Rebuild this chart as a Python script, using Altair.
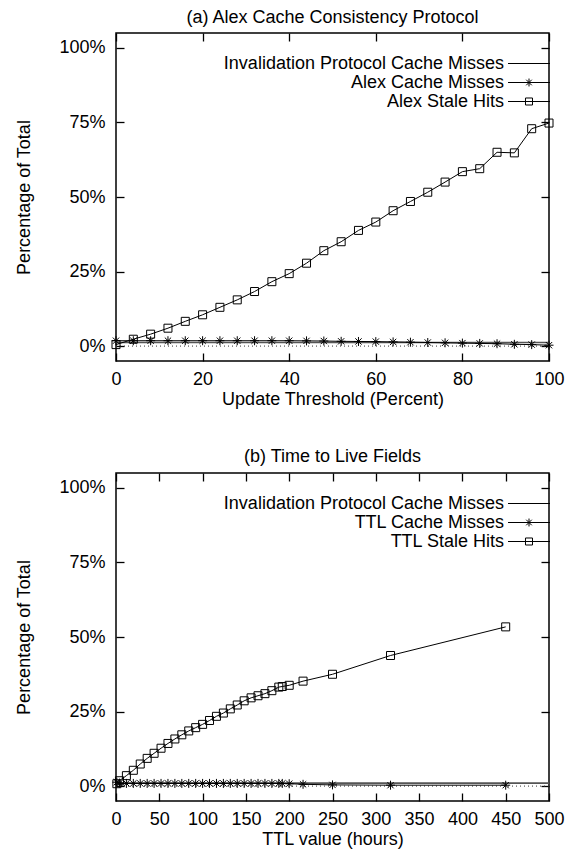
import altair as alt
import pandas as pd

FONT = "Liberation Sans"

# ---------------- data: (a) Alex ----------------
threshold = [0, 4, 8, 12, 16, 20, 24, 28, 32, 36, 40, 44, 48, 52, 56, 60,
             64, 68, 72, 76, 80, 84, 88, 92, 96, 100]
alex_stale = [0.5, 2.3, 4.0, 6.0, 8.3, 10.5, 13.0, 15.5, 18.3, 21.6, 24.3,
              27.8, 32.0, 35.0, 38.8, 41.6, 45.4, 48.5, 51.6, 55.0, 58.5,
              59.5, 65.0, 64.8, 72.9, 74.8]
alex_misses = [1.8, 1.8, 1.8, 1.8, 1.8, 1.8, 1.8, 1.8, 1.8, 1.8, 1.8, 1.75,
               1.7, 1.6, 1.55, 1.5, 1.4, 1.3, 1.2, 1.1, 1.0, 0.9, 0.8, 0.6,
               0.5, 0.3]
inval_a_x = [0, 100]
inval_a = [1.2, 1.2]

# ---------------- data: (b) TTL ----------------
ttl_hours = [1, 4, 12, 20, 28, 36, 44, 52, 60, 68, 76, 84, 92, 100, 108, 116,
             124, 132, 140, 148, 156, 164, 172, 180, 188, 192, 200, 216, 250,
             317, 450]
ttl_stale = [0.8, 1.8, 3.5, 5.3, 7.4, 9.3, 11.0, 12.7, 14.3, 15.8, 17.2, 18.5,
             19.6, 20.7, 22.0, 23.4, 24.5, 25.9, 27.2, 28.6, 29.6, 30.3, 31.0,
             32.0, 33.2, 33.4, 33.8, 35.2, 37.5, 43.8, 53.4]
ttl_misses = [1.3, 1.0, 0.9, 0.9, 0.9, 0.9, 0.9, 0.9, 0.9, 0.9, 0.9, 0.9, 0.9,
              0.9, 0.9, 0.9, 0.9, 0.9, 0.9, 0.9, 0.9, 0.9, 0.9, 0.9, 0.9, 0.9,
              0.8, 0.6, 0.4, 0.3, 0.3]
inval_b_x = [0, 500]
inval_b = [1.0, 1.0]

y_ticks = [0, 25, 50, 75, 100]
x_ticks_a = [0, 20, 40, 60, 80, 100]
x_ticks_b = [0, 50, 100, 150, 200, 250, 300, 350, 400, 450, 500]
zero_line = [0]

names_a = ["Invalidation Protocol Cache Misses", "Alex Cache Misses", "Alex Stale Hits"]
names_b = ["Invalidation Protocol Cache Misses", "TTL Cache Misses", "TTL Stale Hits"]

W, H = 433, 328

STAR = "M-1,0H1M0,-1V1M-0.7,-0.7L0.7,0.7M-0.7,0.7L0.7,-0.7"
# legend symbols: unit = 9 px (symbolSize 324)
LEG_LINE = "M-2.33,0H2.33"
LEG_STAR = ("M-2.33,0H2.33M0,-0.44V0.44M-0.31,-0.31L0.31,0.31"
            "M-0.31,0.31L0.31,-0.31")
LEG_SQUARE = "M-2.33,0H2.33M-0.39,-0.39H0.39V0.39H-0.39Z"


def panel(title, ix, iy, xs, misses, stale, names, xdomain, xticks, xtitle,
          title_offset):
    df_inval = pd.DataFrame({"x": ix, "y": iy, "series": names[0]})
    df_m = pd.DataFrame({"x": xs, "y": misses, "series": names[1]})
    df_s = pd.DataFrame({"x": xs, "y": stale, "series": names[2]})
    df_ms = pd.concat([df_m, df_s], ignore_index=True)
    df_all = pd.concat([df_inval, df_m, df_s], ignore_index=True)
    df_zero = pd.DataFrame({"y": zero_line})

    xsc = alt.Scale(domain=xdomain, nice=False, zero=False)
    ysc = alt.Scale(domain=[-5, 105], nice=False, zero=False)

    main_x = alt.Axis(title=xtitle, values=xticks, ticks=False, domain=False,
                      grid=False, labelPadding=9, titlePadding=2, format="d",
                      labelFlush=False)
    main_y = alt.Axis(title="Percentage of Total", values=y_ticks,
                      labelExpr="datum.value + '%'", ticks=False, domain=False,
                      grid=False, labelPadding=11, titlePadding=25)
    tick_x1 = alt.Axis(orient="top", offset=-H, values=xticks, labels=False,
                       ticks=True, domain=False, grid=False, title=None, tickSize=8)
    tick_y1 = alt.Axis(orient="right", offset=-W, values=y_ticks, labels=False,
                       ticks=True, domain=False, grid=False, title=None, tickSize=8)
    tick_x2 = alt.Axis(orient="bottom", offset=-H, values=xticks, labels=False,
                       ticks=True, domain=False, grid=False, title=None, tickSize=8)
    tick_y2 = alt.Axis(orient="left", offset=-W, values=y_ticks, labels=False,
                       ticks=True, domain=False, grid=False, title=None, tickSize=8)

    inval = alt.Chart(df_inval).mark_line(color="#555555", strokeWidth=1.6).encode(
        x=alt.X("x:Q", scale=xsc, axis=main_x),
        y=alt.Y("y:Q", scale=ysc, axis=main_y),
    )
    lines = alt.Chart(df_ms).mark_line(color="black", strokeWidth=1).encode(
        x=alt.X("x:Q", scale=xsc, axis=tick_x1),
        y=alt.Y("y:Q", scale=ysc, axis=tick_y1),
        detail="series:N",
    )
    stars = alt.Chart(df_m).mark_point(shape=STAR, size=81, filled=False,
                                       color="black", strokeWidth=1, opacity=1).encode(
        x=alt.X("x:Q", scale=xsc, axis=tick_x2),
        y=alt.Y("y:Q", scale=ysc, axis=tick_y2),
    )
    squares = alt.Chart(df_s).mark_point(shape="square", size=64, filled=False,
                                         color="black", strokeWidth=1, opacity=1).encode(
        x=alt.X("x:Q", scale=xsc, axis=None),
        y=alt.Y("y:Q", scale=ysc, axis=None),
    )
    zero = alt.Chart(df_zero).mark_rule(color="#333333", strokeWidth=1,
                                        strokeDash=[1, 3]).encode(
        y=alt.Y("y:Q", scale=ysc, axis=None),
    )
    legend = alt.Chart(df_all).mark_point(opacity=0).encode(
        x=alt.X("x:Q", scale=xsc, axis=None),
        y=alt.Y("y:Q", scale=ysc, axis=None),
        shape=alt.Shape("series:N",
                        scale=alt.Scale(domain=names,
                                        range=[LEG_LINE, LEG_STAR, LEG_SQUARE]),
                        legend=alt.Legend(title=None, orient="none",
                                          legendX=403.5, legendY=21,
                                          direction="vertical",
                                          labelAlign="right",
                                          labelOffset={"expr": "-34.5"},
                                          symbolOffset=0,
                                          labelLimit=500, labelFontSize=18,
                                          labelFont=FONT, labelColor="black",
                                          symbolSize=324, symbolOpacity=1,
                                          symbolStrokeColor="black",
                                          symbolFillColor="transparent",
                                          symbolStrokeWidth=1, rowPadding=0,
                                          padding=0)),
    )
    return alt.layer(zero, inval, lines, stars, squares, legend).resolve_axis(
        x="independent", y="independent"
    ).properties(
        width=W, height=H,
        title=alt.TitleParams(title, fontSize=18, fontWeight="normal", font=FONT,
                              anchor="middle", offset=title_offset, color="black"),
    )


top = panel("(a) Alex Cache Consistency Protocol", inval_a_x, inval_a, threshold,
            alex_misses, alex_stale, names_a, [0, 100], x_ticks_a,
            "Update Threshold (Percent)", 5)
bottom = panel("(b) Time to Live Fields", inval_b_x, inval_b, ttl_hours,
               ttl_misses, ttl_stale, names_b, [0, 500], x_ticks_b,
               "TTL value (hours)", 6)

chart = alt.vconcat(top, bottom, spacing=38).resolve_scale(
    shape="independent"
).resolve_legend(
    shape="independent"
).properties(
    padding={"left": 7, "top": 0, "right": 0, "bottom": 0}
).configure_view(
    stroke="black", strokeWidth=1.5
).configure_axis(
    labelFont=FONT, labelFontSize=18, labelColor="black",
    titleFont=FONT, titleFontSize=18, titleColor="black", titleFontWeight="normal",
    tickColor="black", tickWidth=1.3,
)

chart.save("out.html", embed_options={"renderer": "svg", "actions": False})
